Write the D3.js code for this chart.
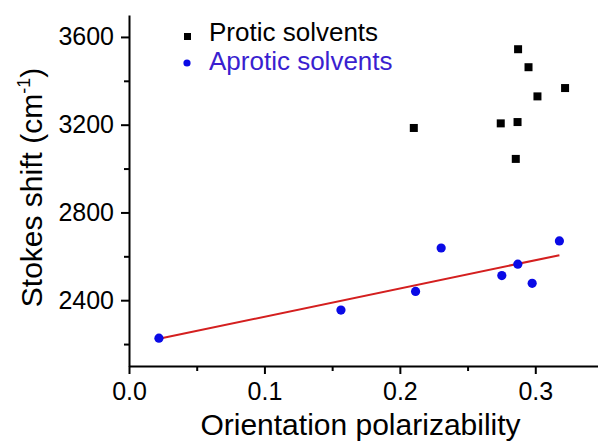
<!DOCTYPE html>
<html>
<head>
<meta charset="utf-8">
<script src="https://cdn.jsdelivr.net/npm/d3@7"></script>
<style>
  body { margin: 0; background: #fff; }
  text { font-family: Arial, "Liberation Sans", sans-serif; }
</style>
</head>
<body>
<svg id="chart" width="598" height="441"></svg>
<script>
// protic solvents (squares)
const proticX = [0.2103, 0.2745, 0.2856, 0.2869, 0.2873, 0.2950, 0.3016, 0.3220];
const proticY = [3185, 3206, 3044, 3212, 3544, 3462, 3329, 3367];
// aprotic solvents (circles)
const aproticX = [0.0221, 0.1565, 0.2116, 0.2305, 0.2753, 0.2871, 0.2977, 0.3178];
const aproticY = [2227, 2355, 2440, 2638, 2512, 2564, 2477, 2670];

const xTicks = [0, 0.1, 0.2, 0.3];
const xMinor = [0.05, 0.15, 0.25];
const yTicks = [2400, 2800, 3200, 3600];
const yMinor = [2200, 2600, 3000, 3400];
const legendLabels = ['Protic solvents', 'Aprotic solvents'];

const svg = d3.select('#chart');
const mLeft = 129, mTop = 15, mBottom = 366, mRight = 603;

const x = d3.scaleLinear().domain([0, 0.35]).range([mLeft, mRight]);
const y = d3.scaleLinear().domain([2100, 3700]).range([mBottom, mTop]);

// minor ticks first, then major axes on top
svg.append('g')
  .attr('transform', `translate(0,${mBottom})`)
  .call(d3.axisBottom(x).tickValues(xMinor).tickSize(5).tickFormat(''))
  .call(g => g.select('.domain').remove());
svg.append('g')
  .attr('transform', `translate(${mLeft},0)`)
  .call(d3.axisLeft(y).tickValues(yMinor).tickSize(5).tickFormat(''))
  .call(g => g.select('.domain').remove());

const xAxis = svg.append('g')
  .attr('transform', `translate(0,${mBottom})`)
  .call(d3.axisBottom(x).tickValues(xTicks).tickSize(8).tickSizeOuter(0)
    .tickPadding(8).tickFormat(d3.format('.1f')));
const yAxis = svg.append('g')
  .attr('transform', `translate(${mLeft},0)`)
  .call(d3.axisLeft(y).tickValues(yTicks).tickSize(8).tickSizeOuter(0)
    .tickPadding(7).tickFormat(d3.format('d')));

[xAxis, yAxis].forEach(g => {
  g.selectAll('.domain').attr('stroke', '#000').attr('stroke-width', 2);
  g.selectAll('text').attr('font-size', 25).attr('fill', '#000')
    .attr('font-family', 'Arial, "Liberation Sans", sans-serif');
});
svg.selectAll('g line').attr('stroke', '#000').attr('stroke-width', 2);

// linear fit of the aprotic points
const mx = d3.mean(aproticX), my = d3.mean(aproticY);
const slope = d3.sum(aproticX, (v, i) => (v - mx) * (aproticY[i] - my)) /
  d3.sum(aproticX, v => (v - mx) * (v - mx));
const icpt = my - slope * mx;
const fitX = d3.extent(aproticX);

svg.append('line')
  .attr('x1', x(fitX[0])).attr('y1', y(icpt + slope * fitX[0]))
  .attr('x2', x(fitX[1])).attr('y2', y(icpt + slope * fitX[1]))
  .attr('stroke', '#d41f1f').attr('stroke-width', 2);

const sq = 8;
svg.selectAll('.protic')
  .data(proticX.map((v, i) => [v, proticY[i]]))
  .enter().append('rect')
  .attr('class', 'protic')
  .attr('x', d => x(d[0]) - sq / 2)
  .attr('y', d => y(d[1]) - sq / 2)
  .attr('width', sq).attr('height', sq)
  .attr('fill', '#000');

svg.selectAll('.aprotic')
  .data(aproticX.map((v, i) => [v, aproticY[i]]))
  .enter().append('circle')
  .attr('class', 'aprotic')
  .attr('cx', d => x(d[0]))
  .attr('cy', d => y(d[1]))
  .attr('r', 4.6)
  .attr('fill', '#0a0ae6');

// legend
const legend = svg.append('g');
legend.append('rect')
  .attr('x', 184).attr('y', 33).attr('width', 7).attr('height', 7).attr('fill', '#000');
legend.append('circle')
  .attr('cx', 187).attr('cy', 63).attr('r', 3.6).attr('fill', '#0a0ae6');
legend.append('text')
  .attr('x', 209).attr('y', 41).attr('font-size', 26).attr('fill', '#000')
  .text(legendLabels[0]);
legend.append('text')
  .attr('x', 209).attr('y', 70).attr('font-size', 26).attr('fill', '#3a1fd0')
  .text(legendLabels[1]);

// axis titles
svg.append('text')
  .attr('x', (mLeft + 598) / 2 - 3).attr('y', 435)
  .attr('text-anchor', 'middle').attr('font-size', 30).attr('fill', '#000')
  .text('Orientation polarizability');

const yTitle = svg.append('text')
  .attr('transform', `translate(42,${(mTop + mBottom) / 2 - 3}) rotate(-90)`)
  .attr('text-anchor', 'middle').attr('font-size', 30).attr('fill', '#000');
yTitle.append('tspan').text('Stokes shift (cm');
yTitle.append('tspan').attr('font-size', 18).attr('dy', -12).text('-1');
yTitle.append('tspan').attr('dy', 12).text(')');
</script>
</body>
</html>
